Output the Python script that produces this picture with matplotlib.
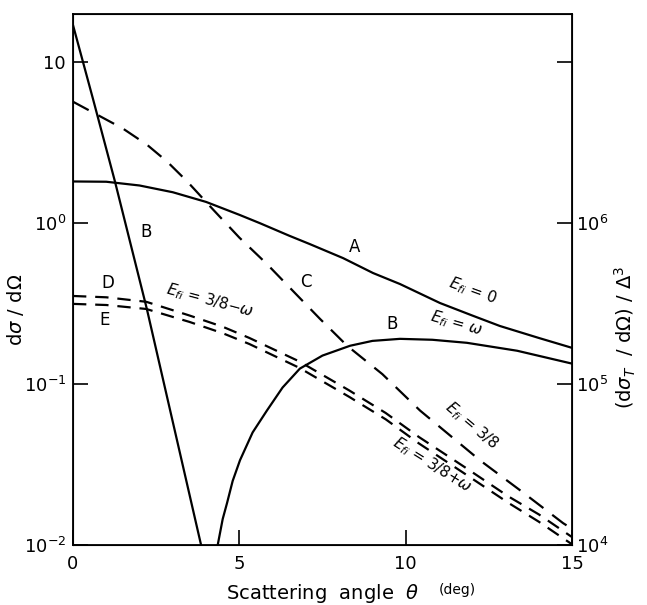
import matplotlib
matplotlib.use("Agg")
import matplotlib.pyplot as plt

# ---- data ----
# curve A : E_fi = 0 (solid)
a_x = [0, 1, 2, 3, 4, 5, 5.62, 6.5, 7.12, 8.12, 9.02, 9.83, 11.03, 12, 12.83, 14, 15]
a_y = [1.807, 1.80, 1.706, 1.549, 1.349, 1.122, 0.995, 0.832, 0.738, 0.604, 0.488,
       0.417, 0.318, 0.266, 0.229, 0.193, 0.1675]

# curve B : E_fi = omega (solid), two branches around the zero
b1_x = [0, 0.6, 1.26, 2.22, 3.06, 3.85]
b1_y = [16.9, 5.89, 1.81, 0.292, 0.0513, 0.01]
b2_x = [4.35, 4.5, 4.63, 4.8, 5.02, 5.4, 5.83, 6.3, 6.82, 7.5, 8.33, 9.0, 9.83, 10.8,
        11.84, 13.35, 15]
b2_y = [0.01, 0.0145, 0.0182, 0.025, 0.0336, 0.050, 0.0684, 0.095, 0.1245, 0.150,
        0.1726, 0.185, 0.1905, 0.188, 0.180, 0.1607, 0.1337]

# curve C : E_fi = 3/8 (dashed)
c_x = [0, 0.72, 1.5, 2.22, 2.83, 3.43, 4.21, 5.0, 5.83, 6.6, 7.42, 8.24, 9.3, 10.43,
       12.23, 13.5, 14.73, 15]
c_y = [5.65, 4.70, 3.85, 3.06, 2.40, 1.81, 1.21, 0.81, 0.555, 0.38, 0.254, 0.1726,
       0.115, 0.0684, 0.0336, 0.0214, 0.01368, 0.0126]

# curve D : E_fi = 3/8 - omega (dashed)
d_x = [0, 1, 2.2, 3.5, 4.5, 5.3, 6.8, 8.3, 9.4, 10.4, 11.8, 13.1, 14, 15]
d_y = [0.3516, 0.345, 0.3236, 0.266, 0.2265, 0.193, 0.138, 0.0912, 0.066, 0.0468,
       0.0302, 0.01995, 0.0155, 0.0112]

# curve E : E_fi = 3/8 + omega (dashed)
e_x = [0, 1, 2.2, 3.5, 4.5, 5.3, 6.8, 8.3, 9.4, 10.4, 11.8, 13.1, 14, 15]
e_y = [0.314, 0.309, 0.292, 0.2427, 0.2065, 0.177, 0.126, 0.0832, 0.0603, 0.0427,
       0.0275, 0.0182, 0.01396, 0.0101]

x_ticks = [0, 5, 10, 15]
x_tick_labels = ["0", "5", "10", "15"]
left_ticks = [0.01, 0.1, 1, 10]
left_tick_labels = [r"$10^{-2}$", r"$10^{-1}$", r"$10^{0}$", "10"]
right_ticks = [1e4, 1e5, 1e6, 1e7]
right_tick_labels = [r"$10^{4}$", r"$10^{5}$", r"$10^{6}$", ""]

plt.rcParams["font.family"] = ["DejaVu Sans"]
plt.rcParams["mathtext.fontset"] = "dejavusans"

fig = plt.figure(figsize=(6.47, 6.05), dpi=100)
ax = fig.add_axes([73 / 647, 1 - 545 / 605, (572 - 73) / 647, (545 - 14) / 605])

lw = 1.6
ax.plot(a_x, a_y, color="black", lw=lw)
ax.plot(b1_x, b1_y, color="black", lw=lw)
ax.plot(b2_x, b2_y, color="black", lw=lw)
ax.plot(c_x, c_y, color="black", lw=lw, dashes=(8, 5))
ax.plot(d_x, d_y, color="black", lw=lw, dashes=(6, 4))
ax.plot(e_x, e_y, color="black", lw=lw, dashes=(6, 4))

ax.set_yscale("log")
ax.set_xlim(0, 15)
ax.set_ylim(0.01, 19.8)
ax.minorticks_off()
ax.set_xticks(x_ticks)
ax.set_xticklabels(x_tick_labels, fontsize=13)
ax.set_yticks(left_ticks)
ax.set_yticklabels(left_tick_labels, fontsize=13)
ax.tick_params(axis="both", direction="in", length=11, width=1.2, pad=5)
ax.tick_params(axis="x", pad=7)
for s in ax.spines.values():
    s.set_linewidth(1.3)

ax2 = ax.twinx()
ax2.set_yscale("log")
ax2.set_ylim(0.01 * 1e6, 19.8 * 1e6)
ax2.minorticks_off()
ax2.set_yticks(right_ticks)
ax2.set_yticklabels(right_tick_labels, fontsize=13)
ax2.tick_params(axis="y", direction="in", length=11, width=1.2, pad=3)

ax.set_xlabel(r"Scattering  angle  $\theta$", fontsize=14, labelpad=6)
ax.xaxis.set_label_coords(0.50, -0.07)
fig.text(439 / 647, 1 - 590 / 605, "(deg)", fontsize=10, ha="left", va="center")

fig.text(15 / 647, 1 - 310 / 605, r"d$\sigma$ / d$\Omega$", rotation=90, fontsize=14,
         ha="center", va="center")
fig.text(625 / 647, 1 - 337 / 605, r"(d$\sigma_T$  / d$\Omega$) / $\Delta^3$", rotation=90,
         fontsize=14, ha="center", va="center")

# curve letters
lab = dict(fontsize=12, ha="center", va="center")
ax.text(8.45, 0.706, "A", **lab)
ax.text(2.19, 0.875, "B", **lab)
ax.text(9.59, 0.236, "B", **lab)
ax.text(7.0, 0.43, "C", **lab)
ax.text(1.05, 0.423, "D", **lab)
ax.text(0.96, 0.25, "E", **lab)

rl = dict(fontsize=11, ha="center", va="center", rotation_mode="anchor")
ax.text(4.12, 0.327, r"$E_{fi}$ = 3/8$-\omega$", rotation=-15, **rl)
ax.text(12.02, 0.378, r"$E_{fi}$ = 0", rotation=-20, **rl)
ax.text(11.51, 0.239, r"$E_{fi}$ = $\omega$", rotation=-16, **rl)
ax.text(11.99, 0.0552, r"$E_{fi}$ = 3/8", rotation=-40, **rl)
ax.text(10.79, 0.0313, r"$E_{fi}$ = 3/8+$\omega$", rotation=-32, **rl)

fig.savefig("out.png", dpi=100)
